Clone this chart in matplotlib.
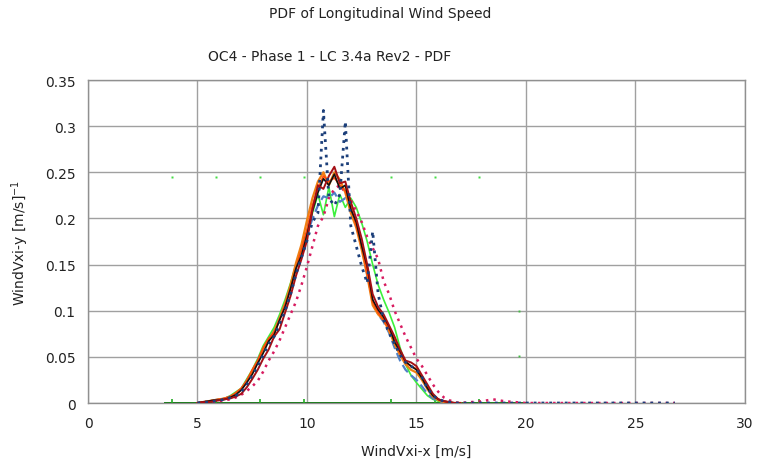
import numpy as np
import matplotlib
matplotlib.use("Agg")
from matplotlib import pyplot as plt

# bin centres [m/s]
wind_speed = np.arange(5.0, 17.01, 0.25)

pdf_black = [0.000, 0.001, 0.002, 0.003, 0.003, 0.004, 0.006, 0.009, 0.014, 0.022,
             0.031, 0.043, 0.054, 0.067, 0.074, 0.090, 0.104, 0.124, 0.146, 0.160,
             0.182, 0.208, 0.228, 0.243, 0.236, 0.248, 0.232, 0.236, 0.210, 0.196,
             0.170, 0.148, 0.112, 0.101, 0.093, 0.083, 0.066, 0.056, 0.045, 0.040,
             0.036, 0.027, 0.016, 0.008, 0.004, 0.002, 0.001, 0.000, 0.000]
pdf_darkred = [0.000, 0.001, 0.001, 0.002, 0.003, 0.004, 0.005, 0.007, 0.010, 0.017,
               0.026, 0.036, 0.048, 0.058, 0.072, 0.080, 0.098, 0.116, 0.138, 0.156,
               0.176, 0.210, 0.236, 0.232, 0.246, 0.256, 0.238, 0.240, 0.218, 0.200,
               0.178, 0.150, 0.118, 0.104, 0.096, 0.084, 0.072, 0.058, 0.046, 0.044,
               0.040, 0.030, 0.020, 0.010, 0.004, 0.002, 0.001, 0.000, 0.000]
pdf_orange = [0.000, 0.001, 0.002, 0.003, 0.004, 0.005, 0.007, 0.010, 0.015, 0.024,
              0.034, 0.044, 0.058, 0.068, 0.078, 0.092, 0.108, 0.128, 0.152, 0.172,
              0.198, 0.222, 0.240, 0.250, 0.236, 0.250, 0.242, 0.228, 0.206, 0.190,
              0.166, 0.138, 0.106, 0.096, 0.090, 0.078, 0.064, 0.052, 0.042, 0.036,
              0.033, 0.025, 0.015, 0.007, 0.003, 0.001, 0.000, 0.000, 0.000]
pdf_orangered = [0.000, 0.001, 0.002, 0.003, 0.004, 0.005, 0.007, 0.011, 0.016, 0.024,
                 0.036, 0.046, 0.060, 0.070, 0.076, 0.090, 0.106, 0.124, 0.146, 0.166,
                 0.188, 0.214, 0.232, 0.246, 0.240, 0.244, 0.236, 0.230, 0.214, 0.192,
                 0.170, 0.140, 0.110, 0.098, 0.090, 0.080, 0.070, 0.054, 0.044, 0.040,
                 0.037, 0.029, 0.018, 0.009, 0.004, 0.002, 0.001, 0.000, 0.000]
pdf_lime = [0.000, 0.001, 0.002, 0.003, 0.004, 0.005, 0.008, 0.012, 0.016, 0.026,
            0.036, 0.048, 0.062, 0.072, 0.082, 0.096, 0.112, 0.130, 0.150, 0.165,
            0.184, 0.206, 0.226, 0.204, 0.234, 0.202, 0.226, 0.212, 0.222, 0.212,
            0.195, 0.175, 0.150, 0.128, 0.112, 0.098, 0.082, 0.060, 0.042, 0.030,
            0.022, 0.015, 0.008, 0.004, 0.002, 0.001, 0.000, 0.000, 0.000]
pdf_blue = [0.000, 0.001, 0.002, 0.003, 0.004, 0.005, 0.007, 0.010, 0.015, 0.024,
            0.034, 0.046, 0.058, 0.068, 0.078, 0.092, 0.108, 0.126, 0.148, 0.162,
            0.182, 0.200, 0.214, 0.224, 0.222, 0.228, 0.218, 0.222, 0.214, 0.196,
            0.168, 0.140, 0.110, 0.096, 0.088, 0.076, 0.060, 0.046, 0.036, 0.030,
            0.025, 0.018, 0.010, 0.005, 0.002, 0.001, 0.000, 0.000, 0.000]
pdf_crimson = [0.000, 0.000, 0.001, 0.001, 0.002, 0.003, 0.004, 0.006, 0.009, 0.013,
               0.018, 0.024, 0.034, 0.046, 0.056, 0.068, 0.082, 0.096, 0.110, 0.128,
               0.148, 0.170, 0.192, 0.202, 0.222, 0.232, 0.236, 0.228, 0.220, 0.208,
               0.196, 0.180, 0.168, 0.156, 0.132, 0.118, 0.100, 0.086, 0.072, 0.060,
               0.048, 0.040, 0.030, 0.020, 0.012, 0.006, 0.003, 0.001, 0.000]
pdf_navy = [0.000, 0.001, 0.001, 0.002, 0.003, 0.004, 0.006, 0.008, 0.012, 0.020,
            0.030, 0.040, 0.052, 0.064, 0.072, 0.086, 0.100, 0.118, 0.140, 0.158,
            0.176, 0.196, 0.206, 0.317, 0.222, 0.214, 0.226, 0.305, 0.192, 0.170,
            0.148, 0.130, 0.186, 0.118, 0.090, 0.076, 0.064, 0.052, 0.044, 0.040,
            0.036, 0.028, 0.016, 0.008, 0.004, 0.002, 0.001, 0.000, 0.000]

# upper tail of the two dotted runs
tail_x = [17.5, 18.0, 18.5, 19.0, 20.0, 26.8]
tail_crimson = [0.001, 0.002, 0.004, 0.002, 0.000, 0.000]
tail_navy = [0.000, 0.000, 0.000, 0.000, 0.000, 0.000]

# sparse green run (markers only)
green_x = [3.85, 5.85, 7.85, 9.85, 13.85, 15.85, 17.85]
green_top = [0.245, 0.245, 0.245, 0.245, 0.245, 0.245, 0.245]
green_tick = [0.004, 0.004, 0.004, 0.004, 0.004, 0.004, 0.004]
green_side_x = [19.7, 19.7]
green_side_y = [0.100, 0.051]

fig = plt.figure(figsize=(7.58, 4.6), dpi=100)
ax = fig.add_axes([0.1161, 0.1217, 0.8667, 0.7022])

# zero line of the green run
ax.plot([3.5, 20.0], [0, 0], color="#1d7a1d", lw=1.4, zorder=3)
ax.vlines(green_x, 0, green_tick, color="#22aa22", lw=1.2, zorder=3)
ax.plot(green_x, green_top, ls="none", marker="s", ms=1.6, mec="none", color="#44dd44")
ax.plot(green_side_x, green_side_y, ls="none", marker="s", ms=1.4, mec="none", color="#44bb44")

x = wind_speed
ax.plot(x, pdf_lime, color="#3cf03c", lw=1.2, zorder=4)
ax.plot(x, pdf_blue, color="#4f81c7", lw=1.6, ls=(0, (4, 2)), zorder=4)
ax.plot(list(x) + tail_x, pdf_crimson + tail_crimson, color="#d81b60", lw=1.8,
        ls=(0, (1, 2)), zorder=4)
ax.plot(x, pdf_orange, color="#ef7f12", lw=1.6, zorder=5)
ax.plot(x, pdf_orangered, color="#ff4a0a", lw=1.3, zorder=5)
ax.plot(x, pdf_black, color="#111111", lw=1.2, zorder=5)
ax.plot(x, pdf_darkred, color="#a50f15", lw=1.4, zorder=6)
ax.plot(list(x) + tail_x, pdf_navy + tail_navy, color="#1c3f7a", lw=2.0,
        ls=(0, (1, 1.8)), zorder=7)

ax.set_xlim(0, 30)
ax.set_ylim(0, 0.35)
ax.set_xticks([0, 5, 10, 15, 20, 25, 30])
ax.set_yticks([0, 0.05, 0.1, 0.15, 0.2, 0.25, 0.3, 0.35])
ax.set_yticklabels(["0", "0.05", "0.1", "0.15", "0.2", "0.25", "0.3", "0.35"])
ax.grid(True, color="#a0a0a0", lw=1.0)
ax.set_axisbelow(True)
ax.tick_params(length=0, labelsize=10, colors="#222222")
ax.tick_params(axis="x", pad=9)
ax.tick_params(axis="y", pad=9)
for s in ax.spines.values():
    s.set_color("#909090")
    s.set_linewidth(1.0)

ax.set_xlabel("WindVxi-x [m/s]", fontsize=10, color="#222222", labelpad=10)
ax.set_ylabel("WindVxi-y [m/s]$^{-1}$", fontsize=10, color="#222222", labelpad=10)

fig.text(380 / 758, 1 - 14 / 460, "PDF of Longitudinal Wind Speed", ha="center",
         va="center", fontsize=10, color="#222222")
fig.text(330 / 758, 1 - 57 / 460, "OC4 - Phase 1 - LC 3.4a Rev2 - PDF", ha="center",
         va="center", fontsize=10, color="#222222")

fig.savefig("out.png", dpi=100)
